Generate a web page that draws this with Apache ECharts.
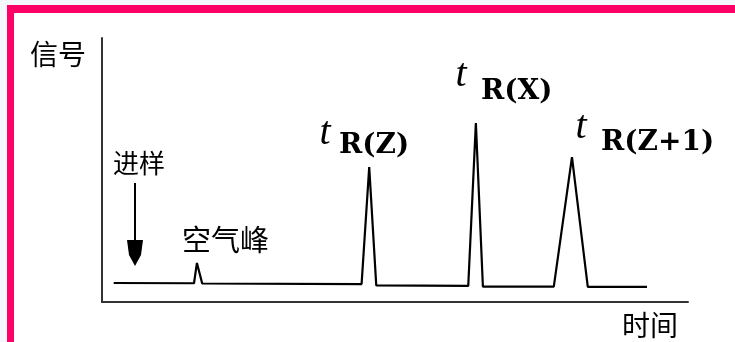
<!DOCTYPE html>
<html>
<head>
<meta charset="utf-8">
<script src="https://cdn.jsdelivr.net/npm/echarts@6/dist/echarts.min.js"></script>
<style>
  html, body { margin: 0; padding: 0; background: #f4f7fb; width: 735px; height: 342px; overflow: hidden; }
  #frame { position: absolute; left: 7px; top: 5px; width: 721px; height: 329px;
           border-left: 7px solid #ff0066; border-top: 8px solid #ff0066; background: #ffffff; }
  #chart { position: absolute; left: 0; top: 0; width: 735px; height: 342px; }
</style>
</head>
<body>
<div id="frame"></div>
<div id="chart"></div>
<script>
// Chromatogram trace (time in arbitrary units, signal in arbitrary units)
const time   = [2.0, 15.7, 16.2, 17.1, 44.3, 45.6, 46.8, 62.5, 63.8, 65.0, 77.1, 80.2, 82.9, 93.0];
const signal = [7.2, 7.1, 14.8, 7.0, 6.8, 51.1, 6.3, 6.1, 67.8, 5.8, 5.8, 54.9, 5.7, 5.7];

const yName = '信号';
const xName = '时间';
const injectLabel = '进样';
const airLabel = '空气峰';
const peakNames = ['R(Z)', 'R(X)', 'R(Z+1)'];

const chart = echarts.init(document.getElementById('chart'), null, { renderer: 'canvas' });

const cjk = '"Noto Sans CJK SC", sans-serif';
const tFont = { fontFamily: '"Liberation Serif", serif', fontStyle: 'italic', fontSize: 40, fill: '#000' };
const rFont = { fontFamily: '"DejaVu Serif", serif', fontWeight: 'bold', fontSize: 28, fill: '#000' };

const tPos = [[325, 133], [461, 75], [581, 127]];
const rPos = [[339, 146], [481, 92], [601, 143]];

const graphics = [
  { type: 'text', left: 30, top: 40, style: { text: yName, font: '28px ' + cjk, fill: '#000' } },
  { type: 'text', left: 622, top: 311, style: { text: xName, font: '28px ' + cjk, fill: '#000' } },
  { type: 'text', left: 113, top: 150, style: { text: injectLabel, font: '26px ' + cjk, fill: '#000' } },
  { type: 'text', left: 182, top: 225, style: { text: airLabel, font: '29px ' + cjk, fill: '#000' } },
  { type: 'line', shape: { x1: 135, y1: 183, x2: 135, y2: 244 }, style: { stroke: '#000', lineWidth: 2 } },
  { type: 'polygon', shape: { points: [[127, 240], [143, 240], [141, 255], [135, 266], [129, 255]] }, style: { fill: '#000' } }
];
peakNames.forEach((n, i) => {
  graphics.push({ type: 'text', x: tPos[i][0], y: tPos[i][1],
    style: Object.assign({ text: 't', align: 'center', verticalAlign: 'middle' }, tFont) });
  graphics.push({ type: 'text', x: rPos[i][0], y: rPos[i][1],
    style: Object.assign({ text: n, align: 'left', verticalAlign: 'middle' }, rFont) });
});

chart.setOption({
  animation: false,
  backgroundColor: 'transparent',
  grid: { left: 102, top: 38, width: 586, height: 264 },
  xAxis: {
    type: 'value', min: 0, max: 100,
    axisLine: { show: true, lineStyle: { color: '#333', width: 2 } },
    axisTick: { show: false }, axisLabel: { show: false }, splitLine: { show: false }
  },
  yAxis: {
    type: 'value', min: 0, max: 100,
    axisLine: { show: true, lineStyle: { color: '#333', width: 2 } },
    axisTick: { show: false }, axisLabel: { show: false }, splitLine: { show: false }
  },
  series: [{
    type: 'line',
    data: time.map((t, i) => [t, signal[i]]),
    showSymbol: false,
    lineStyle: { color: '#000', width: 2.2 },
    silent: true
  }],
  graphic: graphics
});
</script>
</body>
</html>
